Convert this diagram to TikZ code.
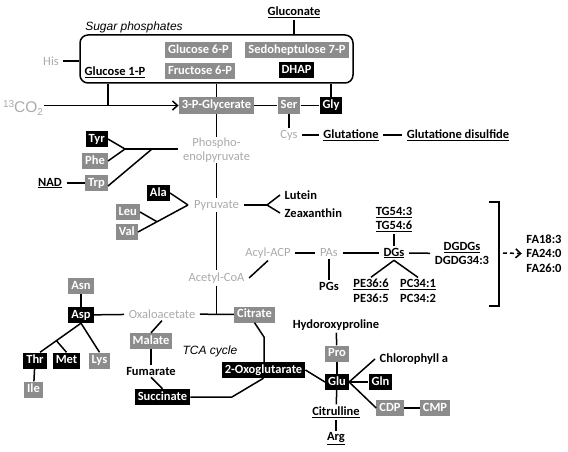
\documentclass[tikz,border=0pt]{standalone}
\usepackage{fontspec}
\setmainfont{Carlito}
\newfontfamily\arialf{Liberation Sans}
\usetikzlibrary{arrows.meta,calc}
\definecolor{boxgray}{HTML}{8C8C8C}
\definecolor{txtgray}{HTML}{AAAAAA}
\begin{document}
\begin{tikzpicture}[x=1pt,y=-1pt,
  font=\fontsize{12.5}{14.5}\selectfont,
  gbox/.style={fill=boxgray,text=white,font=\fontsize{12.5}{14.5}\selectfont\bfseries,
    text height=9pt,text depth=3pt,inner xsep=3pt,inner ysep=2pt},
  bbox/.style={gbox,fill=black},
  lbl/.style={font=\fontsize{12.5}{14.5}\selectfont\bfseries,align=center,inner xsep=4.5pt,inner ysep=2pt},
  glbl/.style={text=txtgray,align=center,inner xsep=4.5pt,inner ysep=2pt},
  ital/.style={font=\fontsize{12}{14}\arialf\itshape},
  ln/.style={line width=1.5pt},
  tip/.style={-{Straight Barb[length=5pt,width=9pt,line width=1.5pt]}}]
\useasboundingbox (0,0) rectangle (568,452);

% ---------- sugar phosphates ----------
\node[ital] (sugar) at (134,27) {Sugar phosphates};
\node[draw,ln,rounded corners=8pt,minimum width=273pt,minimum height=48pt,inner sep=0pt] (sbox) at (216.5,59) {};
\node[lbl] (gluconate) at (294,12) {\underline{Gluconate}};
\node[glbl] (his) at (51,61) {His};
\node[lbl] (g1p) at (115,72) {\underline{Glucose 1-P}};
\node[gbox] (g6p) at (198.5,50.5) {Glucose 6-P};
\node[gbox] (f6p) at (200,71.5) {Fructose 6-P};
\node[gbox] (s7p) at (297,50.5) {Sedoheptulose 7-P};
\node[bbox] (dhap) at (296.5,70.5) {DHAP};

% ---------- glycolysis top ----------
\node[text=txtgray,font=\fontsize{15.5}{17}\arialf,inner sep=1pt] (co2) at (23,108)
  {\raisebox{5pt}{\fontsize{10}{10}\selectfont 13}CO\raisebox{-3.5pt}{\fontsize{10}{10}\selectfont 2}};
\node[gbox] (tpg) at (216.5,105.5) {3-P-Glycerate};
\node[gbox] (ser) at (289,105.5) {Ser};
\node[bbox] (gly) at (331,105.5) {Gly};
\node[glbl] (cys) at (289,135) {Cys};
\node[lbl] (glut) at (351,135) {\underline{Glutatione}};
\node[lbl] (glutd) at (458,135) {\underline{Glutatione disulfide}};
\coordinate (j1) at (108,105.5);

\draw[ln] (gluconate) -- (gluconate |- sbox.north);
\draw[ln] (his) -- (his -| sbox.west);
\draw[ln,tip] (co2.east |- tpg) -- (tpg);
\draw[ln] (j1 |- sbox.south) -- (j1);
\draw[ln] (tpg |- sbox.south) -- (tpg);
\draw[ln] (gly |- sbox.south) -- (gly);
\draw[ln] (tpg) -- (ser);
\draw[ln] (ser) -- (gly);
\draw[ln] (ser) -- (cys);
\draw[ln] (cys) -- (glut);
\draw[ln] (glut) -- (glutd);

% ---------- PEP / aromatic ----------
\node[glbl,inner ysep=1pt] (pep) at (216.5,150) {Phospho-\\[-1pt]enolpyruvate};
\node[bbox,anchor=east] (tyr) at (108,139) {Tyr};
\node[gbox,anchor=east] (phe) at (108,161) {Phe};
\node[gbox,anchor=east] (trp) at (108,183) {Trp};
\node[lbl] (nad) at (50,183) {\underline{NAD}};
\coordinate (j2) at (125,149);
\coordinate (j3) at (152,149);
\draw[ln] (tpg) -- (pep);
\draw[ln] (tyr.east) -- (j2);
\draw[ln] (phe.east) -- (j2);
\draw[ln] (j2) -- (pep.west |- j2);
\draw[ln] ($(trp.east)+(0,3)$) -- (j3);
\draw[ln] (nad) -- (trp);

% ---------- pyruvate ----------
\node[glbl] (pyr) at (216.5,205) {Pyruvate};
\node[bbox,anchor=east] (ala) at (170,193) {Ala};
\node[gbox,anchor=east] (leu) at (140,212) {Leu};
\node[gbox,anchor=east] (val) at (138,232) {Val};
\node[lbl,anchor=west] (lut) at (280,195) {Lutein};
\node[lbl,anchor=west] (zea) at (280,213) {Zeaxanthin};
\coordinate (j4) at (188,205);
\coordinate (j6) at (267,205);
\coordinate (j5) at ($(val.east)!0.38!(j4)$);
\draw[ln] (pep) -- (pyr);
\draw[ln] (ala.east) -- (j4);
\draw[ln] (val.east) -- (j4);
\draw[ln] (leu.east) -- (j5);
\draw[ln] (pyr) -- (j6);
\draw[ln] (j6) -- (lut.west);
\draw[ln] (j6) -- (zea.west);

% ---------- lipids ----------
\node[glbl] (acoa) at (216.5,278) {Acetyl-CoA};
\node[glbl] (acyl) at (268,253) {Acyl-ACP};
\node[glbl] (pas) at (329,253) {PAs};
\node[lbl] (dgs) at (394,253) {\underline{DGs}};
\node[lbl] (tg) at (394,219.5) {\underline{TG54:3}\\\underline{TG54:6}};
\node[lbl] (dgdg) at (462,253.5) {\underline{DGDGs}\\DGDG34:3};
\node[lbl] (pgs) at (329,286) {PGs};
\node[lbl] (pe) at (371,291) {\underline{PE36:6}\\PE36:5};
\node[lbl] (pc) at (418,291) {\underline{PC34:1}\\PC34:2};
\node[lbl] (fa) at (544,253.5) {FA18:3\\FA24:0\\FA26:0};
\draw[ln] (pyr) -- (acoa);
\draw[ln] (acoa.east) -- (acyl.south);
\draw[ln] (acyl) -- (pas);
\draw[ln] (pas) -- (dgs);
\draw[ln] (dgs) -- (dgdg);
\draw[ln] (tg) -- (dgs);
\draw[ln] (pas) -- (pgs);
\draw[ln] (dgs.south) -- (pe.north);
\draw[ln] (dgs.south) -- (pc.north);
\draw[ln] (489,202) -- (499,202) -- (499,306) -- (489,306);
\coordinate (brk) at (503,253);
\draw[ln,tip,dash pattern=on 4pt off 3pt] (brk) -- (fa.west);

% ---------- TCA / aspartate ----------
\node[glbl] (oaa) at (162,314) {Oxaloacetate};
\node[gbox] (cit) at (254.5,314.5) {Citrate};
\node[gbox] (asn) at (81,286) {Asn};
\node[bbox] (asp) at (81,315) {Asp};
\node[bbox] (thr) at (35,360.5) {Thr};
\node[bbox] (met) at (66.5,360.5) {Met};
\node[gbox] (lys) at (99.5,360.5) {Lys};
\node[gbox] (ile) at (33.5,389.5) {Ile};
\node[gbox] (mal) at (151,341) {Malate};
\node[ital] (tca) at (210,351) {TCA cycle};
\node[lbl] (fum) at (151,371) {Fumarate};
\node[bbox] (succ) at (162.5,397) {Succinate};
\node[bbox] (og) at (263.5,370) {2-Oxoglutarate};
\coordinate (jm) at ($(asp.south)!0.6!($(thr.north)+(5,0)$)$);
\coordinate (j9) at (232,397);
\coordinate (j10) at (264,337);
\draw[ln] (acoa) -- (acoa |- cit);
\draw[ln] (oaa) -- (cit);
\draw[ln] (asp) -- (oaa);
\draw[ln] (asn) -- (asp);
\draw[ln] (asp.south) -- ($(thr.north)+(5,0)$);
\draw[ln] (jm) -- (met.north);
\draw[ln] (asp.south) -- (lys.north);
\draw[ln] (thr) -- (ile);
\draw[ln] (oaa.south) -- (mal.north);
\draw[ln] (mal) -- (fum);
\draw[ln] (fum.south) -- (succ.north);
\draw[ln] (succ) -- (j9) -- (og.south);
\draw[ln] (cit.south) -- (j10) -- (j10 |- og.north);

% ---------- glutamate ----------
\node[lbl] (hyp) at (336,325) {Hydoroxyproline};
\node[gbox] (pro) at (337,353.5) {Pro};
\node[bbox] (glu) at (337,382) {Glu};
\node[lbl,anchor=west] (chl) at (375,359) {Chlorophyll a};
\node[bbox] (gln) at (380.5,382) {Gln};
\node[gbox] (cdp) at (390,408) {CDP};
\node[gbox] (cmp) at (435,408) {CMP};
\node[lbl] (citr) at (336,412) {\underline{Citrulline}};
\node[lbl] (arg) at (336,439) {\underline{Arg}};
\draw[ln] (og.east) -- (glu.west);
\draw[ln] (hyp) -- (pro);
\draw[ln] (pro) -- (glu);
\draw[ln] (glu) -- (citr);
\draw[ln] (citr) -- (arg);
\draw[ln] (glu.east) -- (chl.west);
\draw[ln] (glu) -- (gln);
\draw[ln] (glu.east) -- (cdp.west);
\draw[ln] (cdp) -- (cmp);
\end{tikzpicture}
\end{document}
